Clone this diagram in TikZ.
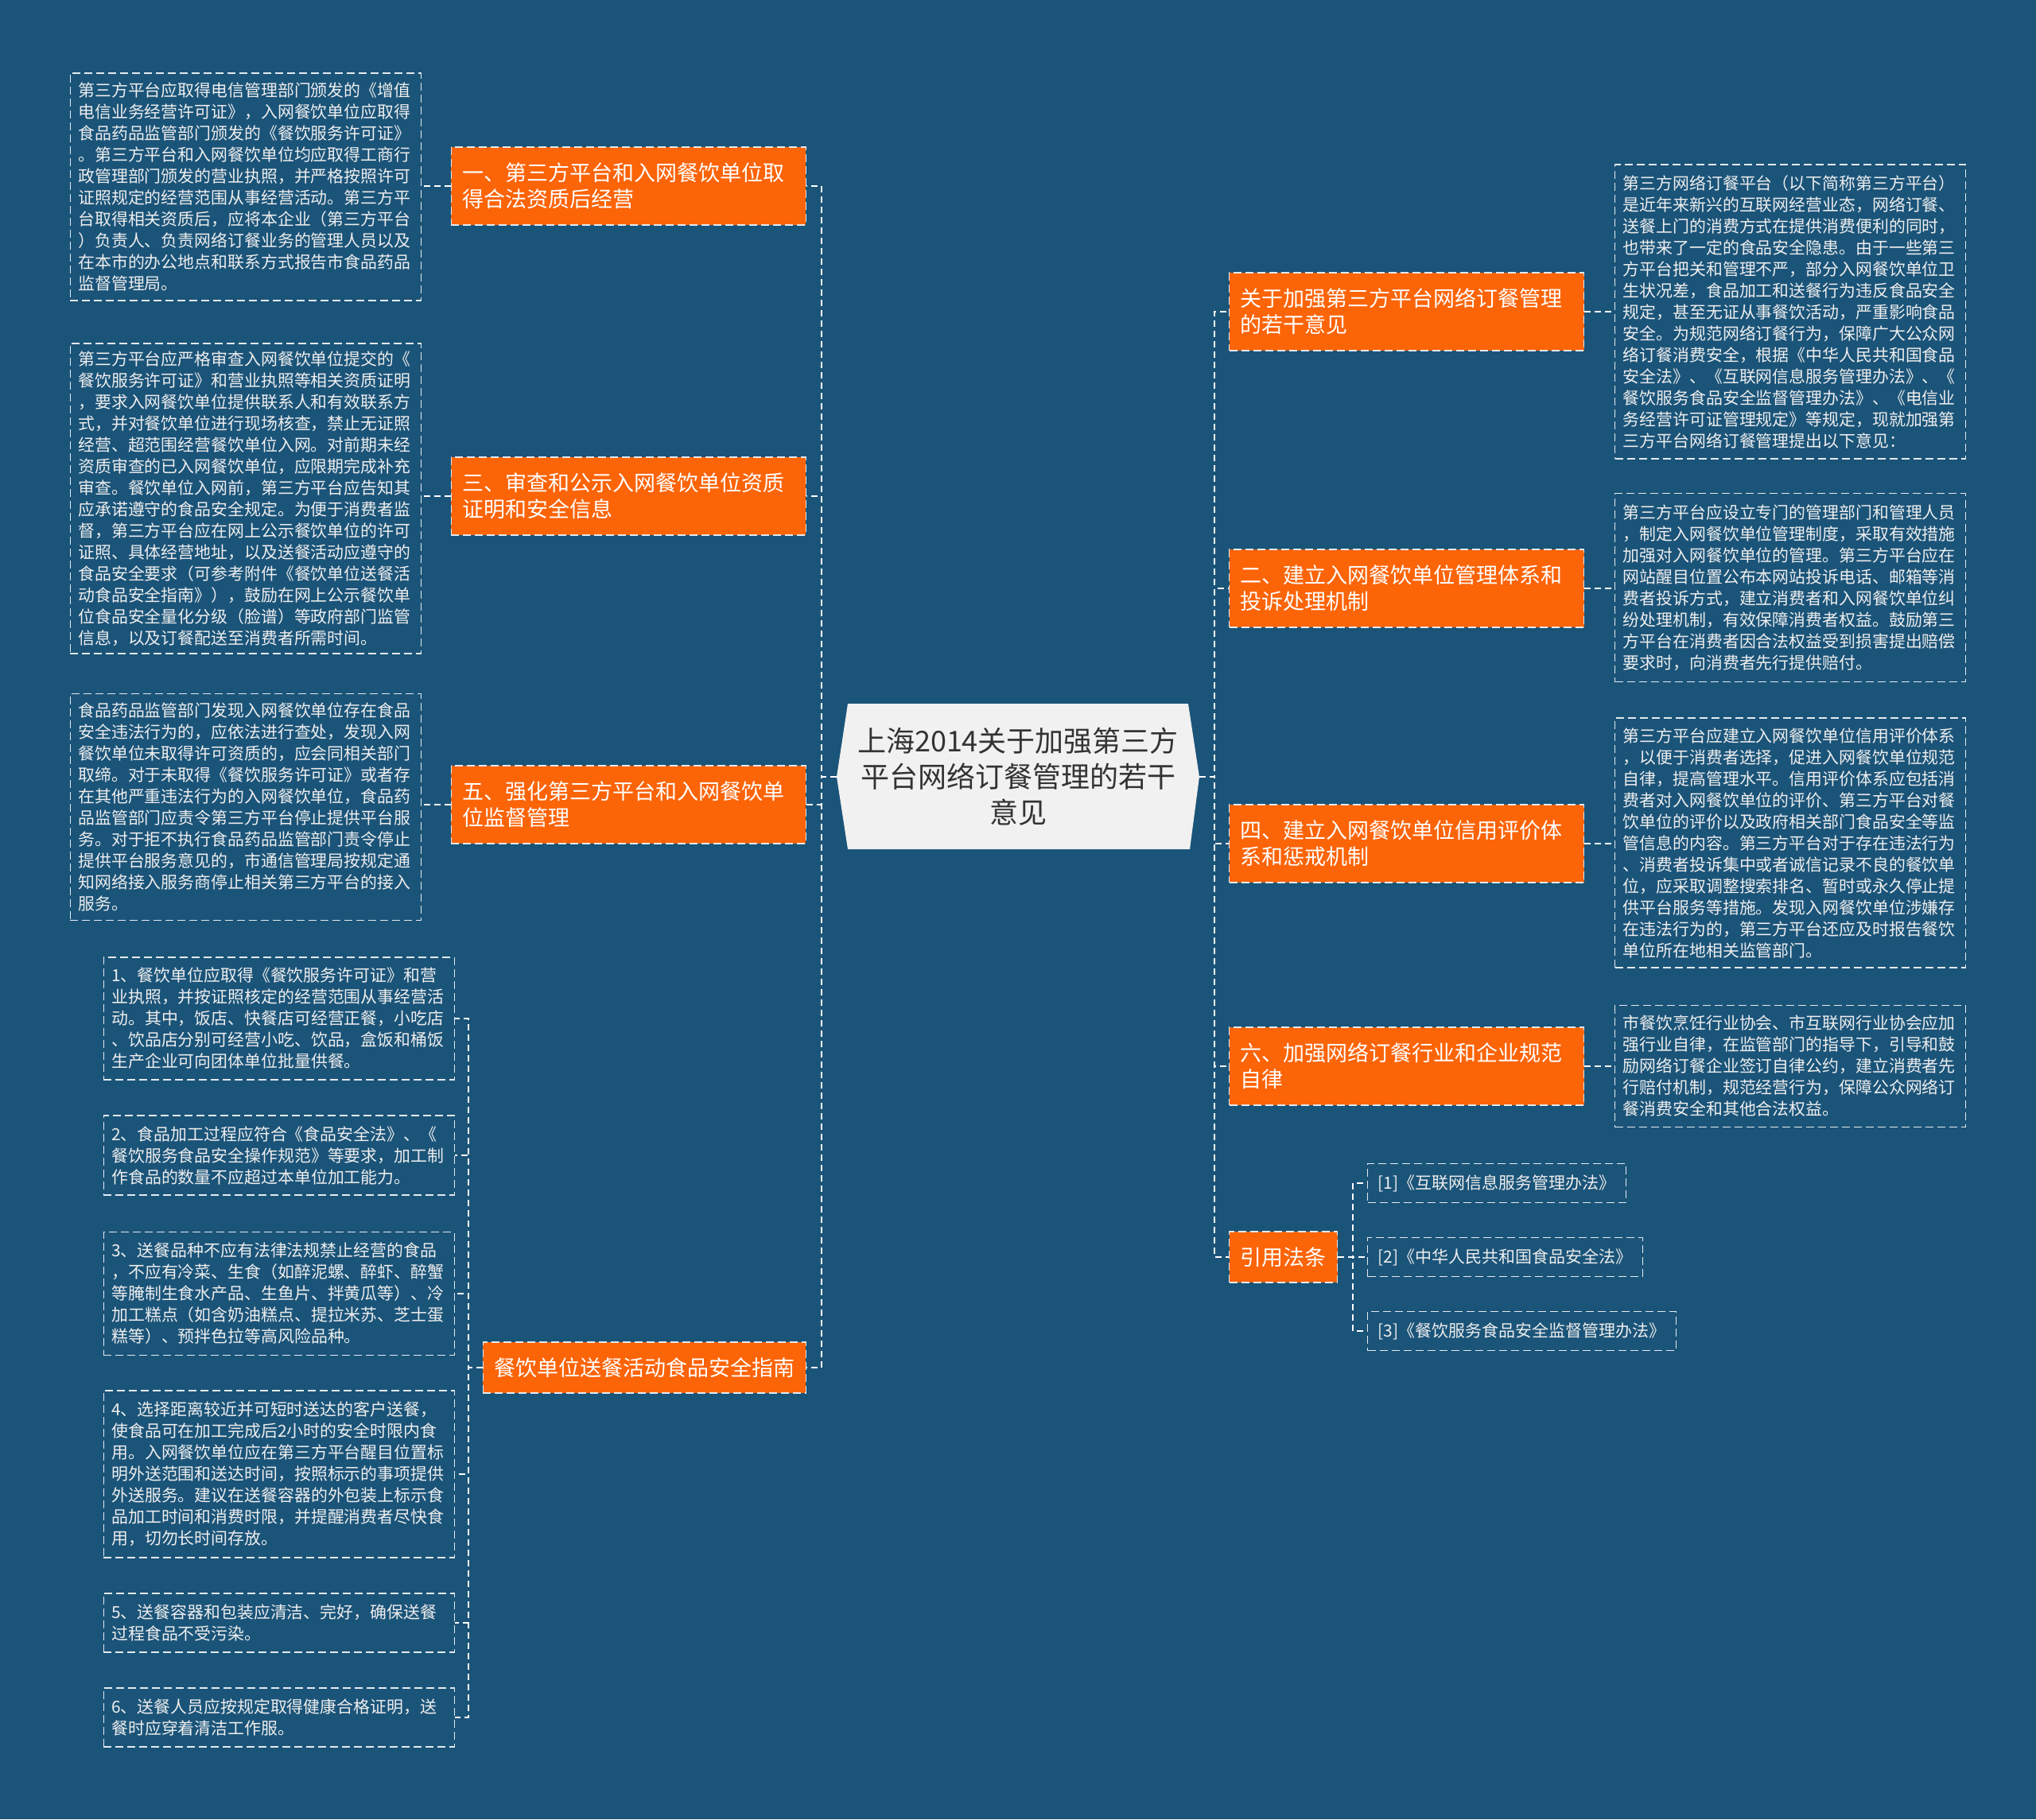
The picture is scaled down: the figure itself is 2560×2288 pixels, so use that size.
\documentclass[tikz,border=0pt]{standalone}
\usepackage{fontspec}
\setmainfont{Noto Sans CJK SC}
\usetikzlibrary{calc}
\definecolor{bgblue}{RGB}{27,84,121}
\definecolor{orng}{RGB}{252,100,8}
\definecolor{cgray}{RGB}{241,241,241}
\definecolor{ctext}{RGB}{51,51,51}
\definecolor{ltext}{RGB}{238,238,238}
\tikzset{
  conn/.style={draw=white, line width=1pt, dash pattern=on 4pt off 2.5pt},
  boxline/.style={draw=white!88!bgblue, line width=0.7pt, dash pattern=on 5pt off 2.5pt},
  txtblock/.style={boxline, text=ltext, font=\fontsize{10.45pt}{13.5pt}\selectfont, align=left, text width=210.5pt, inner xsep=5pt, inner ysep=3pt},
  topic/.style={boxline, fill=orng, text=white, font=\fontsize{13.5pt}{16.5pt}\selectfont, align=left, text width=209pt, inner xsep=7pt, inner ysep=3pt, minimum height=49pt},
  topicone/.style={boxline, fill=orng, text=white, font=\fontsize{13.5pt}{16.5pt}\selectfont, inner xsep=7pt, inner ysep=3pt, minimum height=32pt},
  refbox/.style={boxline, text=ltext, font=\fontsize{10.5pt}{13.5pt}\selectfont, inner xsep=6.5pt, inner ysep=3pt, minimum height=24.5pt},
}
\begin{document}
\begin{tikzpicture}[x=0.5pt, y=-0.5pt]
\fill[bgblue] (0,0) rectangle (2560,2288);
\useasboundingbox (0,0) rectangle (2560,2288);

% central topic
\fill[cgray] (1052,977) -- (1066,885) -- (1494,885) -- (1508,977) -- (1496,1068) -- (1066,1068) -- cycle;
\node[font=\fontsize{18pt}{22.5pt}\selectfont, text=ctext, align=center, minimum width=228pt, minimum height=91.5pt, inner sep=0pt] (c) at (1280,977)
  {上海2014关于加强第三方\\平台网络订餐管理的若干\\意见};

% left topics
\node[topic, anchor=east] (n1) at (1014,234) {一、第三方平台和入网餐饮单位取\\得合法资质后经营};
\node[topic, anchor=east] (n3) at (1014,624) {三、审查和公示入网餐饮单位资质\\证明和安全信息};
\node[topic, anchor=east] (n5) at (1014,1012) {五、强化第三方平台和入网餐饮单\\位监督管理};
\node[topicone, anchor=east] (ng) at (1014,1720) {餐饮单位送餐活动食品安全指南};

% right topics
\node[topic, anchor=west] (r0) at (1545,392) {关于加强第三方平台网络订餐管理\\的若干意见};
\node[topic, anchor=west] (r2) at (1545,740) {二、建立入网餐饮单位管理体系和\\投诉处理机制};
\node[topic, anchor=west] (r4) at (1545,1061) {四、建立入网餐饮单位信用评价体\\系和惩戒机制};
\node[topic, anchor=west] (r6) at (1545,1341) {六、加强网络订餐行业和企业规范\\自律};
\node[topicone, anchor=west] (rc) at (1545,1581) {引用法条};

% left detail blocks
\node[txtblock, anchor=east, minimum height=143pt] (l1) at (530,235) {第三方平台应取得电信管理部门颁发的《增值\\电信业务经营许可证》，入网餐饮单位应取得\\食品药品监管部门颁发的《餐饮服务许可证》\\。第三方平台和入网餐饮单位均应取得工商行\\政管理部门颁发的营业执照，并严格按照许可\\证照规定的经营范围从事经营活动。第三方平\\台取得相关资质后，应将本企业（第三方平台\\）负责人、负责网络订餐业务的管理人员以及\\在本市的办公地点和联系方式报告市食品药品\\监督管理局。};
\node[txtblock, anchor=east, minimum height=195pt] (l3) at (530,627) {第三方平台应严格审查入网餐饮单位提交的《\\餐饮服务许可证》和营业执照等相关资质证明\\，要求入网餐饮单位提供联系人和有效联系方\\式，并对餐饮单位进行现场核查，禁止无证照\\经营、超范围经营餐饮单位入网。对前期未经\\资质审查的已入网餐饮单位，应限期完成补充\\审查。餐饮单位入网前，第三方平台应告知其\\应承诺遵守的食品安全规定。为便于消费者监\\督，第三方平台应在网上公示餐饮单位的许可\\证照、具体经营地址，以及送餐活动应遵守的\\食品安全要求（可参考附件《餐饮单位送餐活\\动食品安全指南》），鼓励在网上公示餐饮单\\位食品安全量化分级（脸谱）等政府部门监管\\信息，以及订餐配送至消费者所需时间。};
\node[txtblock, anchor=east, minimum height=142.5pt] (l5) at (530,1015) {食品药品监管部门发现入网餐饮单位存在食品\\安全违法行为的，应依法进行查处，发现入网\\餐饮单位未取得许可资质的，应会同相关部门\\取缔。对于未取得《餐饮服务许可证》或者存\\在其他严重违法行为的入网餐饮单位，食品药\\品监管部门应责令第三方平台停止提供平台服\\务。对于拒不执行食品药品监管部门责令停止\\提供平台服务意见的，市通信管理局按规定通\\知网络接入服务商停止相关第三方平台的接入\\服务。};

% guide items
\node[txtblock, anchor=east, minimum height=77pt] (g1) at (572,1281) {1、餐饮单位应取得《餐饮服务许可证》和营\\业执照，并按证照核定的经营范围从事经营活\\动。其中，饭店、快餐店可经营正餐，小吃店\\、饮品店分别可经营小吃、饮品，盒饭和桶饭\\生产企业可向团体单位批量供餐。};
\node[txtblock, anchor=east, minimum height=50pt] (g2) at (572,1453) {2、食品加工过程应符合《食品安全法》、《\\餐饮服务食品安全操作规范》等要求，加工制\\作食品的数量不应超过本单位加工能力。};
\node[txtblock, anchor=east, minimum height=77.5pt] (g3) at (572,1627) {3、送餐品种不应有法律法规禁止经营的食品\\，不应有冷菜、生食（如醉泥螺、醉虾、醉蟹\\等腌制生食水产品、生鱼片、拌黄瓜等）、冷\\加工糕点（如含奶油糕点、提拉米苏、芝士蛋\\糕等）、预拌色拉等高风险品种。};
\node[txtblock, anchor=east, minimum height=105pt] (g4) at (572,1854) {4、选择距离较近并可短时送达的客户送餐，\\使食品可在加工完成后2小时的安全时限内食\\用。入网餐饮单位应在第三方平台醒目位置标\\明外送范围和送达时间，按照标示的事项提供\\外送服务。建议在送餐容器的外包装上标示食\\品加工时间和消费时限，并提醒消费者尽快食\\用，切勿长时间存放。};
\node[txtblock, anchor=east, minimum height=37pt] (g5) at (572,2041) {5、送餐容器和包装应清洁、完好，确保送餐\\过程食品不受污染。};
\node[txtblock, anchor=east, minimum height=37pt] (g6) at (572,2160) {6、送餐人员应按规定取得健康合格证明，送\\餐时应穿着清洁工作服。};

% right detail blocks
\node[txtblock, anchor=west, minimum height=185pt] (d0) at (2030,392) {第三方网络订餐平台（以下简称第三方平台）\\是近年来新兴的互联网经营业态，网络订餐、\\送餐上门的消费方式在提供消费便利的同时，\\也带来了一定的食品安全隐患。由于一些第三\\方平台把关和管理不严，部分入网餐饮单位卫\\生状况差，食品加工和送餐行为违反食品安全\\规定，甚至无证从事餐饮活动，严重影响食品\\安全。为规范网络订餐行为，保障广大公众网\\络订餐消费安全，根据《中华人民共和国食品\\安全法》、《互联网信息服务管理办法》、《\\餐饮服务食品安全监督管理办法》、《电信业\\务经营许可证管理规定》等规定，现就加强第\\三方平台网络订餐管理提出以下意见：};
\node[txtblock, anchor=west, minimum height=118.5pt] (d2) at (2030,739) {第三方平台应设立专门的管理部门和管理人员\\，制定入网餐饮单位管理制度，采取有效措施\\加强对入网餐饮单位的管理。第三方平台应在\\网站醒目位置公布本网站投诉电话、邮箱等消\\费者投诉方式，建立消费者和入网餐饮单位纠\\纷处理机制，有效保障消费者权益。鼓励第三\\方平台在消费者因合法权益受到损害提出赔偿\\要求时，向消费者先行提供赔付。};
\node[txtblock, anchor=west, minimum height=157pt] (d4) at (2030,1060) {第三方平台应建立入网餐饮单位信用评价体系\\，以便于消费者选择，促进入网餐饮单位规范\\自律，提高管理水平。信用评价体系应包括消\\费者对入网餐饮单位的评价、第三方平台对餐\\饮单位的评价以及政府相关部门食品安全等监\\管信息的内容。第三方平台对于存在违法行为\\、消费者投诉集中或者诚信记录不良的餐饮单\\位，应采取调整搜索排名、暂时或永久停止提\\供平台服务等措施。发现入网餐饮单位涉嫌存\\在违法行为的，第三方平台还应及时报告餐饮\\单位所在地相关监管部门。};
\node[txtblock, anchor=west, minimum height=76.5pt] (d6) at (2030,1341) {市餐饮烹饪行业协会、市互联网行业协会应加\\强行业自律，在监管部门的指导下，引导和鼓\\励网络订餐企业签订自律公约，建立消费者先\\行赔付机制，规范经营行为，保障公众网络订\\餐消费安全和其他合法权益。};

% references
\node[refbox, anchor=west] (f1) at (1719,1488) {[1]《互联网信息服务管理办法》};
\node[refbox, anchor=west] (f2) at (1719,1581) {[2]《中华人民共和国食品安全法》};
\node[refbox, anchor=west] (f3) at (1719,1674) {[3]《餐饮服务食品安全监督管理办法》};

% connectors: center to topics
\foreach \n in {n1,n3,n5,ng} \draw[conn] (c.west) -- ++(-19,0) |- (\n.east);
\foreach \n in {r0,r2,r4,r6,rc} \draw[conn] (c.east) -- ++(19,0) |- (\n.west);
% topics to details
\draw[conn] (n1.west) -- (n1.west -| l1.east);
\draw[conn] (n3.west) -- (n3.west -| l3.east);
\draw[conn] (n5.west) -- (n5.west -| l5.east);
\foreach \n in {g1,g2,g3,g4,g5,g6} \draw[conn] (ng.west) -- ++(-18,0) |- (\n.east);
\draw[conn] (r0.east) -- (r0.east -| d0.west);
\draw[conn] (r2.east) -- (r2.east -| d2.west);
\draw[conn] (r4.east) -- (r4.east -| d4.west);
\draw[conn] (r6.east) -- (r6.east -| d6.west);
\foreach \n in {f1,f2,f3} \draw[conn] (rc.east) -- ++(19,0) |- (\n.west);
\end{tikzpicture}
\end{document}
